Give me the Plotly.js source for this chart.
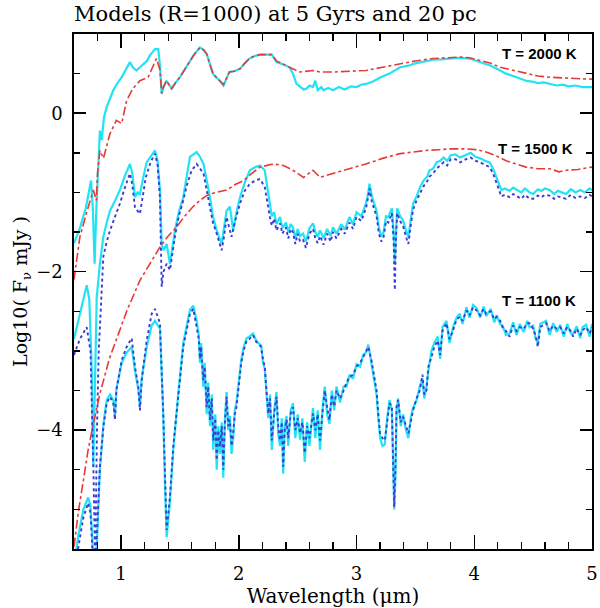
<!DOCTYPE html>
<html>
<head>
<meta charset="utf-8">
<script src="https://cdn.plot.ly/plotly-3.0.1.min.js"></script>
<style>body{margin:0;background:#fff}#chart{width:600px;height:608px}</style>
</head>
<body>
<div id="chart"></div>
<script>
// ---- T = 2000 K ----
const x2000Cyan = [0.60,0.65,0.70,0.72,0.745,0.76,0.775,0.79,0.808,0.82,0.835,0.855,0.878,0.905,0.934,0.96,1.005,1.04,1.075,1.10,1.13,1.16,1.19,1.22,1.245,1.27,1.288,1.316,1.33,1.345,1.36,1.386,1.41,1.43,1.46,1.50,1.54,1.585,1.62,1.67,1.70,1.727,1.755,1.78,1.81,1.84,1.87,1.895,1.92,1.96,2.01,2.05,2.09,2.13,2.18,2.23,2.28,2.32,2.37,2.43,2.46,2.49,2.52,2.55,2.575,2.60,2.63,2.65,2.67,2.70,2.72,2.76,2.80,2.85,2.90,2.95,3.00,3.04,3.08,3.14,3.20,3.28,3.37,3.44,3.50,3.58,3.65,3.72,3.78,3.83,3.88,3.96,4.05,4.10,4.14,4.18,4.22,4.27,4.33,4.38,4.44,4.49,4.54,4.59,4.64,4.70,4.75,4.80,4.86,4.92,4.98,5.0];
const y2000Cyan = [-1.64,-1.45,-1.2,-1.05,-0.85,-1.2,-1.9,-1.2,-0.5,-0.22,-0.34,-0.05,0.08,0.18,0.29,0.36,0.455,0.55,0.645,0.58,0.54,0.58,0.62,0.66,0.73,0.77,0.81,0.81,0.6,0.245,0.33,0.41,0.35,0.31,0.38,0.455,0.55,0.665,0.74,0.83,0.80,0.75,0.62,0.5,0.45,0.41,0.35,0.44,0.52,0.53,0.56,0.63,0.69,0.72,0.74,0.74,0.74,0.645,0.62,0.58,0.50,0.37,0.34,0.30,0.31,0.35,0.33,0.41,0.29,0.33,0.29,0.32,0.29,0.33,0.30,0.34,0.33,0.36,0.37,0.40,0.45,0.50,0.58,0.60,0.63,0.65,0.675,0.68,0.69,0.70,0.70,0.69,0.645,0.62,0.60,0.57,0.54,0.50,0.47,0.44,0.41,0.40,0.38,0.39,0.37,0.35,0.36,0.34,0.35,0.33,0.33,0.33];

const x2000Red = [0.60,0.65,0.708,0.764,0.79,0.80,0.82,0.85,0.905,0.96,1.005,1.047,1.10,1.16,1.23,1.30,1.33,1.345,1.36,1.386,1.41,1.43,1.46,1.50,1.54,1.585,1.62,1.67,1.70,1.727,1.755,1.78,1.81,1.84,1.87,1.895,1.92,1.96,2.01,2.05,2.09,2.13,2.18,2.23,2.28,2.32,2.37,2.43,2.52,2.63,2.69,2.80,2.94,3.08,3.22,3.37,3.50,3.65,3.78,3.88,3.96,4.05,4.14,4.22,4.33,4.44,4.54,4.64,4.78,4.90,5.0];
const y2000Red = [-2.1,-1.56,-1.25,-0.97,-1.1,-0.75,-0.47,-0.57,-0.26,-0.09,-0.13,0.16,0.31,0.41,0.455,0.69,0.55,0.25,0.33,0.41,0.35,0.31,0.38,0.455,0.55,0.665,0.74,0.83,0.80,0.75,0.62,0.5,0.45,0.41,0.36,0.44,0.52,0.53,0.56,0.63,0.69,0.72,0.74,0.74,0.74,0.66,0.62,0.58,0.52,0.54,0.52,0.52,0.53,0.54,0.58,0.62,0.66,0.69,0.70,0.71,0.70,0.665,0.63,0.58,0.54,0.50,0.47,0.455,0.44,0.435,0.43];

// ---- T = 1500 K ----
const x1500Cyan = [0.60,0.63,0.66,0.69,0.708,0.73,0.75,0.764,0.778,0.793,0.82,0.849,0.878,0.906,0.95,0.99,1.03,1.075,1.095,1.118,1.14,1.16,1.19,1.217,1.25,1.288,1.31,1.33,1.345,1.36,1.387,1.415,1.457,1.49,1.528,1.555,1.585,1.642,1.67,1.70,1.73,1.755,1.78,1.812,1.854,1.875,1.896,1.924,1.952,1.98,2.01,2.05,2.094,2.14,2.18,2.22,2.264,2.28,2.30,2.32,2.35,2.37,2.40,2.42,2.44,2.46,2.48,2.50,2.52,2.546,2.57,2.60,2.63,2.65,2.67,2.69,2.72,2.75,2.78,2.80,2.83,2.87,2.90,2.94,2.97,3.00,3.04,3.08,3.10,3.11,3.13,3.15,3.17,3.19,3.21,3.23,3.25,3.27,3.30,3.315,3.325,3.335,3.345,3.37,3.395,3.42,3.44,3.46,3.48,3.51,3.54,3.57,3.60,3.62,3.65,3.68,3.71,3.74,3.77,3.80,3.84,3.88,3.93,3.97,4.01,4.05,4.09,4.13,4.16,4.19,4.21,4.23,4.26,4.30,4.33,4.36,4.40,4.43,4.47,4.50,4.54,4.57,4.60,4.64,4.68,4.71,4.75,4.78,4.82,4.86,4.90,4.94,4.98,5.0];
const y1500Cyan = [-2.85,-2.65,-2.45,-2.25,-2.17,-2.35,-3.2,-4.46,-3.4,-2.32,-1.9,-1.56,-1.38,-1.23,-1.1,-0.97,-0.8,-0.64,-0.75,-1.06,-1.0,-1.02,-0.8,-0.62,-0.55,-0.47,-0.6,-0.97,-1.65,-1.73,-1.65,-1.9,-1.48,-1.25,-1.06,-0.8,-0.55,-0.49,-0.55,-0.64,-0.85,-1.06,-1.3,-1.48,-1.65,-1.45,-1.23,-1.18,-1.48,-1.25,-1.06,-0.88,-0.72,-0.68,-0.66,-0.72,-1.14,-1.3,-1.25,-1.4,-1.31,-1.45,-1.38,-1.5,-1.4,-1.44,-1.58,-1.46,-1.55,-1.52,-1.62,-1.45,-1.39,-1.5,-1.56,-1.48,-1.58,-1.46,-1.55,-1.44,-1.52,-1.40,-1.47,-1.31,-1.4,-1.25,-1.3,-1.14,-1.0,-0.89,-1.05,-1.15,-1.23,-1.45,-1.56,-1.5,-1.3,-1.31,-1.2,-1.5,-1.9,-1.5,-1.2,-1.3,-1.35,-1.48,-1.56,-1.35,-1.14,-1.05,-0.93,-0.85,-0.8,-0.72,-0.7,-0.62,-0.60,-0.56,-0.6,-0.53,-0.52,-0.56,-0.53,-0.5,-0.55,-0.57,-0.6,-0.62,-0.7,-0.81,-0.9,-0.97,-0.95,-0.98,-0.94,-0.97,-1.0,-0.95,-1.0,-1.02,-0.96,-0.98,-0.95,-0.97,-1.02,-0.98,-1.0,-1.02,-0.96,-1.0,-0.97,-1.0,-0.95,-0.97];

const x1500Blue = [0.60,0.65,0.708,0.74,0.765,0.78,0.795,0.81,0.83,0.849,0.878,0.906,0.95,0.99,1.03,1.075,1.095,1.118,1.16,1.21,1.25,1.288,1.31,1.33,1.345,1.36,1.387,1.415,1.457,1.49,1.528,1.56,1.60,1.642,1.70,1.73,1.755,1.78,1.812,1.854,1.875,1.896,1.938,1.97,2.01,2.05,2.094,2.14,2.18,2.22,2.264,2.28,2.30,2.32,2.35,2.37,2.40,2.42,2.44,2.46,2.48,2.50,2.52,2.546,2.57,2.60,2.63,2.65,2.67,2.69,2.72,2.75,2.78,2.80,2.83,2.87,2.90,2.94,2.97,3.00,3.04,3.08,3.10,3.11,3.13,3.15,3.17,3.19,3.21,3.23,3.25,3.27,3.30,3.315,3.325,3.335,3.345,3.37,3.395,3.42,3.44,3.46,3.48,3.51,3.54,3.57,3.60,3.62,3.65,3.68,3.71,3.74,3.77,3.80,3.84,3.88,3.93,3.97,4.01,4.05,4.09,4.13,4.16,4.19,4.21,4.23,4.26,4.30,4.33,4.36,4.40,4.43,4.47,4.50,4.54,4.57,4.60,4.64,4.68,4.71,4.75,4.78,4.82,4.86,4.90,4.94,4.98,5.0];
const y1500Blue = [-3.05,-2.85,-2.70,-3.0,-4.5,-5.7,-4.0,-3.0,-2.4,-1.81,-1.62,-1.48,-1.3,-1.14,-0.95,-0.76,-0.9,-1.19,-1.27,-0.81,-0.62,-0.51,-0.65,-1.06,-2.19,-2.0,-1.90,-1.98,-1.56,-1.3,-1.10,-0.9,-0.72,-0.64,-0.76,-0.98,-1.19,-1.38,-1.52,-1.73,-1.55,-1.31,-1.56,-1.35,-1.14,-0.98,-0.89,-0.85,-0.83,-0.93,-1.31,-1.42,-1.33,-1.48,-1.39,-1.52,-1.44,-1.58,-1.46,-1.5,-1.65,-1.52,-1.62,-1.6,-1.7,-1.52,-1.46,-1.58,-1.64,-1.55,-1.66,-1.52,-1.62,-1.5,-1.58,-1.46,-1.52,-1.38,-1.46,-1.31,-1.36,-1.2,-1.05,-0.95,-1.12,-1.22,-1.30,-1.52,-1.62,-1.56,-1.36,-1.38,-1.26,-1.6,-2.23,-1.6,-1.26,-1.36,-1.42,-1.56,-1.65,-1.42,-1.22,-1.1,-1.0,-0.92,-0.86,-0.8,-0.76,-0.7,-0.66,-0.62,-0.66,-0.58,-0.58,-0.62,-0.58,-0.56,-0.6,-0.62,-0.65,-0.68,-0.76,-0.88,-0.98,-1.05,-1.03,-1.06,-1.02,-1.05,-1.08,-1.03,-1.08,-1.08,-1.04,-1.06,-1.03,-1.04,-1.08,-1.05,-1.07,-1.08,-1.03,-1.07,-1.05,-1.07,-1.03,-1.05];

const x1500Red = [0.60,0.64,0.68,0.72,0.764,0.82,0.90,0.99,1.05,1.16,1.25,1.33,1.40,1.47,1.54,1.61,1.67,1.727,1.80,1.896,1.97,2.04,2.11,2.18,2.29,2.38,2.46,2.55,2.63,2.69,2.80,2.94,3.08,3.22,3.37,3.48,3.59,3.70,3.79,3.93,4.02,4.10,4.19,4.27,4.36,4.44,4.54,4.64,4.72,4.78,4.88,4.98,5.0];
const y1500Red = [-5.47,-5.0,-4.63,-4.25,-3.92,-3.54,-3.1,-2.74,-2.49,-2.11,-1.88,-1.69,-1.55,-1.44,-1.3,-1.18,-1.1,-1.04,-1.0,-0.97,-0.9,-0.85,-0.76,-0.68,-0.64,-0.66,-0.72,-0.81,-0.72,-0.81,-0.76,-0.70,-0.64,-0.57,-0.51,-0.49,-0.47,-0.46,-0.45,-0.45,-0.46,-0.49,-0.54,-0.60,-0.64,-0.68,-0.70,-0.70,-0.74,-0.72,-0.71,-0.68,-0.68];

// ---- T = 1100 K ----
const x1100 = [0.60,0.64,0.68,0.72,0.74,0.76,0.79,0.82,0.85,0.878,0.906,0.934,0.948,0.96,1.005,1.047,1.09,1.118,1.146,1.16,1.175,1.217,1.26,1.288,1.33,1.358,1.373,1.387,1.415,1.443,1.485,1.528,1.585,1.613,1.642,1.66,1.67,1.68,1.698,1.71,1.727,1.74,1.755,1.77,1.783,1.80,1.812,1.826,1.84,1.855,1.868,1.882,1.896,1.91,1.924,1.938,1.952,1.966,1.98,2.0,2.02,2.04,2.066,2.09,2.12,2.145,2.165,2.19,2.205,2.22,2.235,2.25,2.265,2.28,2.30,2.32,2.335,2.35,2.365,2.377,2.39,2.405,2.42,2.44,2.46,2.48,2.50,2.52,2.54,2.56,2.58,2.60,2.63,2.65,2.67,2.69,2.71,2.73,2.75,2.77,2.79,2.81,2.83,2.86,2.89,2.915,2.94,2.97,3.0,3.03,3.056,3.08,3.10,3.127,3.15,3.17,3.185,3.20,3.22,3.24,3.26,3.28,3.30,3.315,3.32,3.33,3.34,3.353,3.375,3.395,3.42,3.44,3.46,3.48,3.51,3.537,3.56,3.575,3.594,3.61,3.636,3.66,3.69,3.71,3.73,3.764,3.79,3.82,3.85,3.877,3.90,3.934,3.96,3.99,4.02,4.05,4.08,4.10,4.14,4.17,4.19,4.22,4.24,4.27,4.30,4.33,4.36,4.386,4.42,4.45,4.47,4.50,4.52,4.54,4.56,4.61,4.64,4.67,4.70,4.73,4.76,4.79,4.82,4.84,4.87,4.90,4.92,4.95,4.98,5.0];
const y1100Blue = [-5.8,-5.45,-5.1,-4.92,-5.05,-5.6,-5.47,-4.46,-3.96,-3.66,-3.58,-3.66,-3.87,-3.5,-3.12,-2.95,-2.84,-3.2,-3.45,-3.75,-3.37,-2.87,-2.53,-2.47,-2.65,-3.79,-4.63,-5.26,-4.84,-4.21,-3.58,-2.95,-2.53,-2.47,-2.70,-2.85,-3.1,-2.95,-3.37,-3.2,-3.71,-3.45,-3.87,-3.6,-4.13,-3.85,-4.38,-4.0,-4.21,-3.95,-4.5,-3.9,-3.58,-3.95,-3.87,-4.2,-4.04,-3.8,-3.71,-3.45,-3.16,-3.0,-2.87,-2.85,-2.80,-2.88,-2.91,-2.95,-3.1,-3.20,-3.5,-3.79,-3.6,-4.13,-3.8,-3.58,-3.95,-4.13,-3.9,-4.46,-4.0,-3.87,-4.1,-3.8,-3.71,-4.0,-3.85,-4.04,-3.9,-4.29,-3.95,-4.1,-3.79,-4.0,-3.8,-4.13,-3.8,-3.50,-3.7,-3.87,-3.55,-3.7,-3.50,-3.6,-3.50,-3.4,-3.33,-3.3,-3.20,-3.15,-3.08,-3.0,-2.95,-3.12,-3.3,-3.50,-3.8,-4.04,-4.1,-4.13,-3.9,-3.66,-3.7,-4.6,-4.97,-4.5,-3.7,-3.62,-3.9,-3.83,-3.95,-4.04,-3.9,-3.75,-3.6,-3.50,-3.3,-3.55,-3.50,-3.2,-3.08,-2.95,-2.87,-3.05,-2.75,-2.65,-2.85,-2.74,-2.6,-2.57,-2.62,-2.49,-2.55,-2.45,-2.49,-2.55,-2.47,-2.53,-2.5,-2.6,-2.57,-2.62,-2.70,-2.75,-2.82,-2.68,-2.75,-2.70,-2.72,-2.65,-2.65,-2.72,-2.8,-2.95,-2.7,-2.65,-2.75,-2.68,-2.72,-2.70,-2.78,-2.7,-2.75,-2.82,-2.72,-2.8,-2.74,-2.7,-2.78,-2.70];
const y1100Cyan = [-5.7,-5.3,-5.0,-4.85,-4.95,-5.5,-5.6,-4.5,-3.92,-3.62,-3.55,-3.62,-3.82,-3.48,-3.15,-3.02,-2.95,-3.25,-3.48,-3.7,-3.35,-2.95,-2.68,-2.62,-2.72,-3.8,-4.7,-5.35,-4.9,-4.25,-3.55,-2.9,-2.48,-2.43,-2.62,-2.8,-3.15,-2.9,-3.45,-3.15,-3.8,-3.4,-3.95,-3.55,-4.25,-3.8,-4.5,-3.95,-4.3,-3.9,-4.6,-3.85,-3.52,-4.0,-3.82,-4.3,-4.1,-3.75,-3.65,-3.4,-3.12,-2.96,-2.84,-2.82,-2.78,-2.86,-2.9,-2.93,-3.15,-3.22,-3.55,-3.85,-3.55,-4.25,-3.75,-3.52,-4.05,-4.2,-3.85,-4.55,-3.95,-3.82,-4.2,-3.75,-3.66,-4.1,-3.8,-4.12,-3.85,-4.4,-3.9,-4.2,-3.72,-4.1,-3.75,-4.25,-3.75,-3.45,-3.8,-3.92,-3.5,-3.75,-3.45,-3.65,-3.45,-3.45,-3.3,-3.35,-3.17,-3.2,-3.05,-3.02,-2.92,-3.15,-3.35,-3.55,-3.85,-4.1,-4.2,-4.18,-3.85,-3.62,-3.75,-4.7,-5.0,-4.6,-3.75,-3.6,-3.95,-3.8,-4.0,-4.1,-3.85,-3.72,-3.62,-3.45,-3.35,-3.6,-3.45,-3.25,-3.0,-2.9,-2.82,-3.1,-2.7,-2.62,-2.9,-2.7,-2.58,-2.53,-2.66,-2.45,-2.58,-2.42,-2.46,-2.58,-2.44,-2.56,-2.47,-2.64,-2.55,-2.66,-2.68,-2.8,-2.78,-2.64,-2.8,-2.66,-2.76,-2.62,-2.7,-2.68,-2.84,-2.9,-2.66,-2.62,-2.8,-2.65,-2.76,-2.67,-2.82,-2.66,-2.78,-2.78,-2.69,-2.84,-2.7,-2.67,-2.82,-2.66];

const labels = ["T = 2000 K", "T = 1500 K", "T = 1100 K"];
const labelX = [4.89, 4.855, 4.88];
const labelY = [0.75, -0.45, -2.36];

const CYAN = "#22e3f2", BLUE = "#3b3bd6", RED = "#e63a36";
function cyan(x, y){ return {x, y, type:"scatter", mode:"lines", line:{color:CYAN, width:2.2}, hoverinfo:"skip"}; }
function blue(x, y){ return {x, y, type:"scatter", mode:"lines", line:{color:BLUE, width:1.9, dash:"dot"}, hoverinfo:"skip"}; }
function red(x, y){ return {x, y, type:"scatter", mode:"lines", line:{color:RED, width:1.6, dash:"dashdot"}, hoverinfo:"skip"}; }

const data = [
  cyan(x2000Cyan, y2000Cyan),
  cyan(x1500Cyan, y1500Cyan),
  cyan(x1100, y1100Cyan),
  blue(x1500Blue, y1500Blue),
  blue(x1100, y1100Blue),
  red(x2000Red, y2000Red),
  red(x1500Red, y1500Red)
];

const serif = "DejaVu Serif, serif";
const axisCommon = {
  showgrid:false, zeroline:false, showline:true, linecolor:"#000", linewidth:1.6,
  ticks:"inside", mirror:"ticks", tickcolor:"#000", tickwidth:1.5,
  tickfont:{family:serif, size:18, color:"#000"}
};
const layout = {
  width:600, height:608,
  margin:{l:74, r:8, t:34, b:59},
  paper_bgcolor:"#fff", plot_bgcolor:"#fff",
  showlegend:false,
  title:{text:"Models (R=1000) at 5 Gyrs and 20 pc", font:{family:serif, size:21, color:"#000"},
         xref:"paper", x:0, xanchor:"left", yref:"container", y:0.977, yanchor:"middle"},
  xaxis:Object.assign({}, axisCommon, {
    range:[0.6, 5.0], tickmode:"linear", tick0:0, dtick:1, ticklen:14, ticklabelstandoff:8,
    minor:{tickmode:"linear", tick0:0, dtick:0.2, ticklen:7, ticks:"inside", tickcolor:"#000", tickwidth:1.3},
    title:{text:"Wavelength (μm)", font:{family:serif, size:20, color:"#000"}, standoff:5}
  }),
  yaxis:Object.assign({}, axisCommon, {
    range:[-5.5, 1.0], tickmode:"linear", tick0:0, dtick:2, ticklen:12, ticklabelstandoff:6,
    minor:{tickmode:"linear", tick0:0, dtick:0.5, ticklen:6, ticks:"inside", tickcolor:"#000", tickwidth:1.3},
    title:{text:"Log10( F<sub>ν</sub> mJy )", font:{family:serif, size:19, color:"#000"}, standoff:3}
  }),
  annotations: labels.map((t,i)=>({
    text:"<b>"+t+"</b>", x:labelX[i], y:labelY[i], xref:"x", yref:"y",
    xanchor:"right", yanchor:"middle", showarrow:false,
    font:{family:"Liberation Sans, Arial, sans-serif", size:15, color:"#000"}
  }))
};
Plotly.newPlot("chart", data, layout, {staticPlot:true, displayModeBar:false});
</script>
</body>
</html>
